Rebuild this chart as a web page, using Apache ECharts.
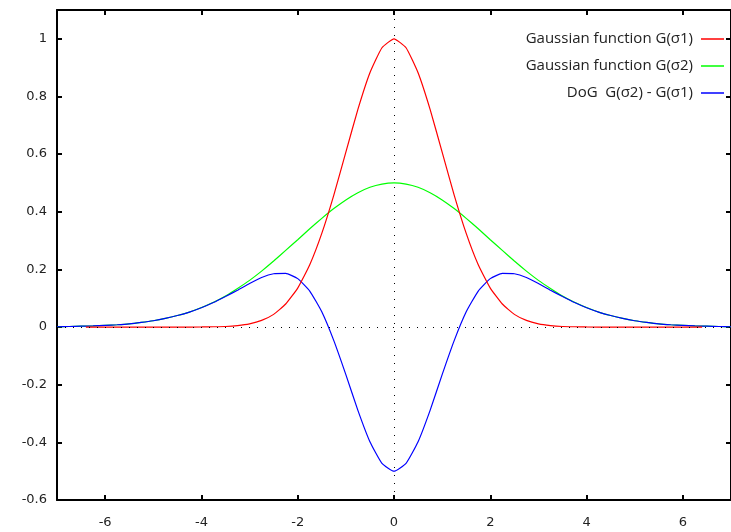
<!DOCTYPE html>
<html>
<head>
<meta charset="utf-8">
<script src="https://cdn.jsdelivr.net/npm/echarts@6/dist/echarts.min.js"></script>
<style>html,body{margin:0;padding:0;background:#fff}#c{width:731px;height:532px}</style>
</head>
<body>
<div id="c"></div>
<script>
// x samples for G(σ2) and DoG
const xs = [-7,-6.75,-6.5,-6.25,-6,-5.75,-5.5,-5.25,-5,-4.75,-4.5,-4.25,-4,-3.75,-3.5,-3.25,-3,-2.75,-2.5,-2.25,-2,-1.75,-1.5,-1.25,-1,-0.75,-0.5,-0.25,0,
  0.25,0.5,0.75,1,1.25,1.5,1.75,2,2.25,2.5,2.75,3,3.25,3.5,3.75,4,4.25,4.5,4.75,5,5.25,5.5,5.75,6,6.25,6.5,6.75,7];
const gauss2 = [0.001,0.002,0.003,0.004,0.006,0.008,0.011,0.016,0.022,0.030,0.040,0.052,0.068,0.086,0.108,0.134,0.162,0.194,0.229,0.266,0.303,0.341,0.377,0.411,0.441,0.466,0.485,0.496,0.5,
  0.496,0.485,0.466,0.441,0.411,0.377,0.341,0.303,0.266,0.229,0.194,0.162,0.134,0.108,0.086,0.068,0.052,0.040,0.030,0.022,0.016,0.011,0.008,0.006,0.004,0.003,0.002,0.001];
const dog = [0.001,0.002,0.003,0.004,0.006,0.008,0.011,0.016,0.022,0.030,0.040,0.052,0.067,0.085,0.106,0.128,0.151,0.172,0.185,0.186,0.168,0.125,0.053,-0.047,-0.165,-0.289,-0.398,-0.473,-0.5,
  -0.473,-0.398,-0.289,-0.165,-0.047,0.053,0.125,0.168,0.186,0.185,0.172,0.151,0.128,0.106,0.085,0.067,0.052,0.040,0.030,0.022,0.016,0.011,0.008,0.006,0.004,0.003,0.002,0.001];
// x samples for G(σ1)
const xsRed = [-6.4,-6,-5.5,-5,-4.5,-4,-3.75,-3.5,-3.25,-3,-2.75,-2.5,-2.25,-2,-1.75,-1.5,-1.25,-1,-0.75,-0.5,-0.25,0,
  0.25,0.5,0.75,1,1.25,1.5,1.75,2,2.25,2.5,2.75,3,3.25,3.5,3.75,4,4.5,5,5.5,6,6.4];
const gauss1 = [0,0,0,0,0,0.0003,0.001,0.002,0.005,0.011,0.023,0.044,0.080,0.135,0.216,0.325,0.458,0.607,0.755,0.882,0.969,1,
  0.969,0.882,0.755,0.607,0.458,0.325,0.216,0.135,0.080,0.044,0.023,0.011,0.005,0.002,0.001,0.0003,0,0,0,0,0];
const xTicks = [-6,-4,-2,0,2,4,6];
const yTicks = [-0.6,-0.4,-0.2,0,0.2,0.4,0.6,0.8,1];
const names = ['Gaussian function G(σ1)','Gaussian function G(σ2)','DoG  G(σ2) - G(σ1)'];

const pair = (a, b) => a.map((v, i) => [v, b[i]]);
const tickFont = {fontFamily:'DejaVu Sans', fontSize:13, color:'#222'};
const fmt = v => String(Math.round(v*10)/10);

const chart = echarts.init(document.getElementById('c'), null, {renderer:'canvas'});
const axisLine = {show:true, onZero:false, lineStyle:{color:'#000', width:2}};
const tick = {show:true, inside:true, length:5, lineStyle:{color:'#000', width:2}};
chart.setOption({
  animation:false,
  backgroundColor:'#fff',
  grid:{left:57, top:10, width:678, height:490, show:false},
  legend:{
    orient:'vertical', right:2, top:26, align:'right', itemWidth:23, itemHeight:1.5, itemGap:11,
    icon:'rect',
    data:names,
    textStyle:{fontFamily:'Open Sans', fontSize:15, lineHeight:16, color:'#222', padding:[0,3,0,0]}
  },
  xAxis:[
    {type:'value', min:-7, max:7, position:'bottom', axisLine,
     axisTick:Object.assign({customValues:xTicks}, tick),
     axisLabel:Object.assign({customValues:xTicks, margin:16, formatter:fmt}, tickFont),
     splitLine:{show:false}},
    {type:'value', min:-7, max:7, position:'top', axisLine,
     axisTick:Object.assign({customValues:xTicks}, tick),
     axisLabel:{show:false}, splitLine:{show:false}}
  ],
  yAxis:[
    {type:'value', min:-0.6, max:1.1, position:'left', axisLine,
     axisTick:Object.assign({customValues:yTicks}, tick),
     axisLabel:Object.assign({customValues:yTicks, margin:10, formatter:fmt}, tickFont),
     splitLine:{show:false}},
    {type:'value', min:-0.6, max:1.1, position:'right', axisLine,
     axisTick:Object.assign({customValues:yTicks}, tick),
     axisLabel:{show:false}, splitLine:{show:false}}
  ],
  series:[
    {name:names[1], type:'line', data:pair(xs, gauss2), symbol:'none', showSymbol:false, smooth:0.15,
     lineStyle:{color:'#00ff00', width:1.2}, itemStyle:{color:'#00ff00'},
     markLine:{silent:true, symbol:'none', label:{show:false},
       lineStyle:{color:'#000', width:1, type:[1,7]},
       data:[{xAxis:0},{yAxis:0}]}},
    {name:names[2], type:'line', data:pair(xs, dog), symbol:'none', showSymbol:false, smooth:0.15,
     lineStyle:{color:'#0000ff', width:1.2}, itemStyle:{color:'#0000ff'}},
    {name:names[0], type:'line', data:pair(xsRed, gauss1), symbol:'none', showSymbol:false, smooth:0.15,
     lineStyle:{color:'#ff0000', width:1.2}, itemStyle:{color:'#ff0000'}}
  ]
});
</script>
</body>
</html>
